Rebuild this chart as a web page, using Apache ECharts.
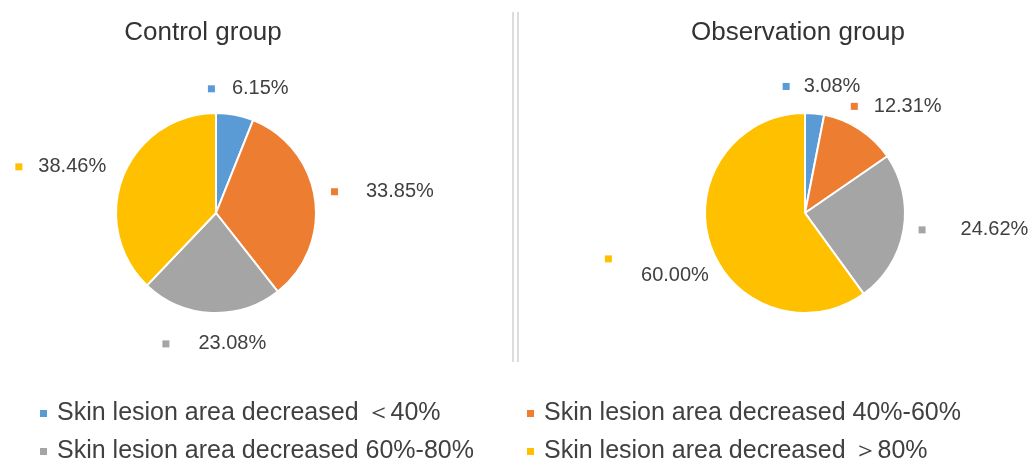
<!DOCTYPE html>
<html>
<head>
<meta charset="utf-8">
<script src="https://cdn.jsdelivr.net/npm/echarts@6/dist/echarts.min.js"></script>
<style>
html,body{margin:0;padding:0;background:#fff;}
#main{width:1033px;height:465px;}
</style>
</head>
<body>
<div id="main"></div>
<script>
// ---- data ----
const categories = [
  'Skin lesion area decreased \uFF1C40%',
  'Skin lesion area decreased 40%-60%',
  'Skin lesion area decreased 60%-80%',
  'Skin lesion area decreased \uFF1E80%'
];
const groupTitles = ['Control group', 'Observation group'];
const controlValues = [6.15, 33.85, 23.08, 38.46];
const observationValues = [3.08, 12.31, 24.62, 60.00];

// ---- styling / layout ----
const colors = ['#5B9BD5', '#ED7D31', '#A5A5A5', '#FFC000'];
const FONT = '"Liberation Sans", Arial, sans-serif';
const textColor = '#404040';
// gap between square and value text per label
const labelGaps = [[17, 28, 29, 16], [14, 16, 35, 0]];
// label offsets from default outside anchor [dx, dy]
const labelOffsets = [
  [[-32, -26], [11, -7], [60, 31], [-12, -9]],
  [[-37, -27], [-14, -23], [10, 0], [4, 28]]
];

function buildData(values, s) {
  return values.map((v, i) => {
    const txt = v.toFixed(2) + '%';
    let fmt;
    if (s === 1 && i === 3) {
      fmt = '{sq| }{gp2| }\n{t|' + txt + '}';
    } else {
      fmt = '{sq| }{gp| }{t|' + txt + '}';
    }
    return {
      name: categories[i],
      value: v,
      itemStyle: { color: colors[i] },
      label: {
        formatter: fmt,
        rich: {
          sq: { backgroundColor: colors[i], width: 7, height: 7, fontSize: 1 },
          gp: { width: labelGaps[s][i], fontSize: 1 },
          gp2: { width: 97, fontSize: 1 },
          t: { fontSize: 20, fontFamily: FONT, color: textColor, lineHeight: 26 }
        }
      }
    };
  });
}

function makeSeries(values, s, cx) {
  return {
    type: 'pie',
    name: groupTitles[s],
    center: [cx, 213],
    radius: 100,
    startAngle: 90,
    clockwise: true,
    avoidLabelOverlap: false,
    itemStyle: { borderColor: '#fff', borderWidth: 2 },
    label: { show: true, position: 'outside' },
    labelLine: { show: false, length: 0, length2: 0 },
    labelLayout: function (p) {
      const o = labelOffsets[p.seriesIndex][p.dataIndex];
      return { dx: o[0], dy: o[1] };
    },
    emphasis: { disabled: true },
    data: buildData(values, s)
  };
}

const legendBase = {
  orient: 'vertical', top: 395, height: 120,
  itemWidth: 9, itemHeight: 9, itemGap: 11, icon: 'rect',
  textStyle: { fontFamily: FONT, fontSize: 25, color: textColor, lineHeight: 27, padding: [0, 0, 0, 4] }
};

const chart = echarts.init(document.getElementById('main'), null, { renderer: 'canvas' });
chart.setOption({
  backgroundColor: '#fff',
  animation: false,
  title: [
    { text: groupTitles[0], left: 198, top: 15, textAlign: 'center',
      textStyle: { fontFamily: FONT, fontSize: 26, fontWeight: 'normal', color: '#333' } },
    { text: groupTitles[1], left: 793, top: 15, textAlign: 'center',
      textStyle: { fontFamily: FONT, fontSize: 26, fontWeight: 'normal', color: '#333' } }
  ],
  legend: [
    Object.assign({}, legendBase, { data: [categories[0], categories[2]], left: 33 }),
    Object.assign({}, legendBase, { data: [categories[1], categories[3]], left: 520 })
  ],
  graphic: [
    { type: 'line', shape: { x1: 513, y1: 12, x2: 513, y2: 362 }, style: { stroke: '#d0d0d0', lineWidth: 1.5 } },
    { type: 'line', shape: { x1: 518, y1: 12, x2: 518, y2: 362 }, style: { stroke: '#d0d0d0', lineWidth: 1.5 } }
  ],
  series: [
    makeSeries(controlValues, 0, 216),
    makeSeries(observationValues, 1, 805)
  ]
});
</script>
</body>
</html>
